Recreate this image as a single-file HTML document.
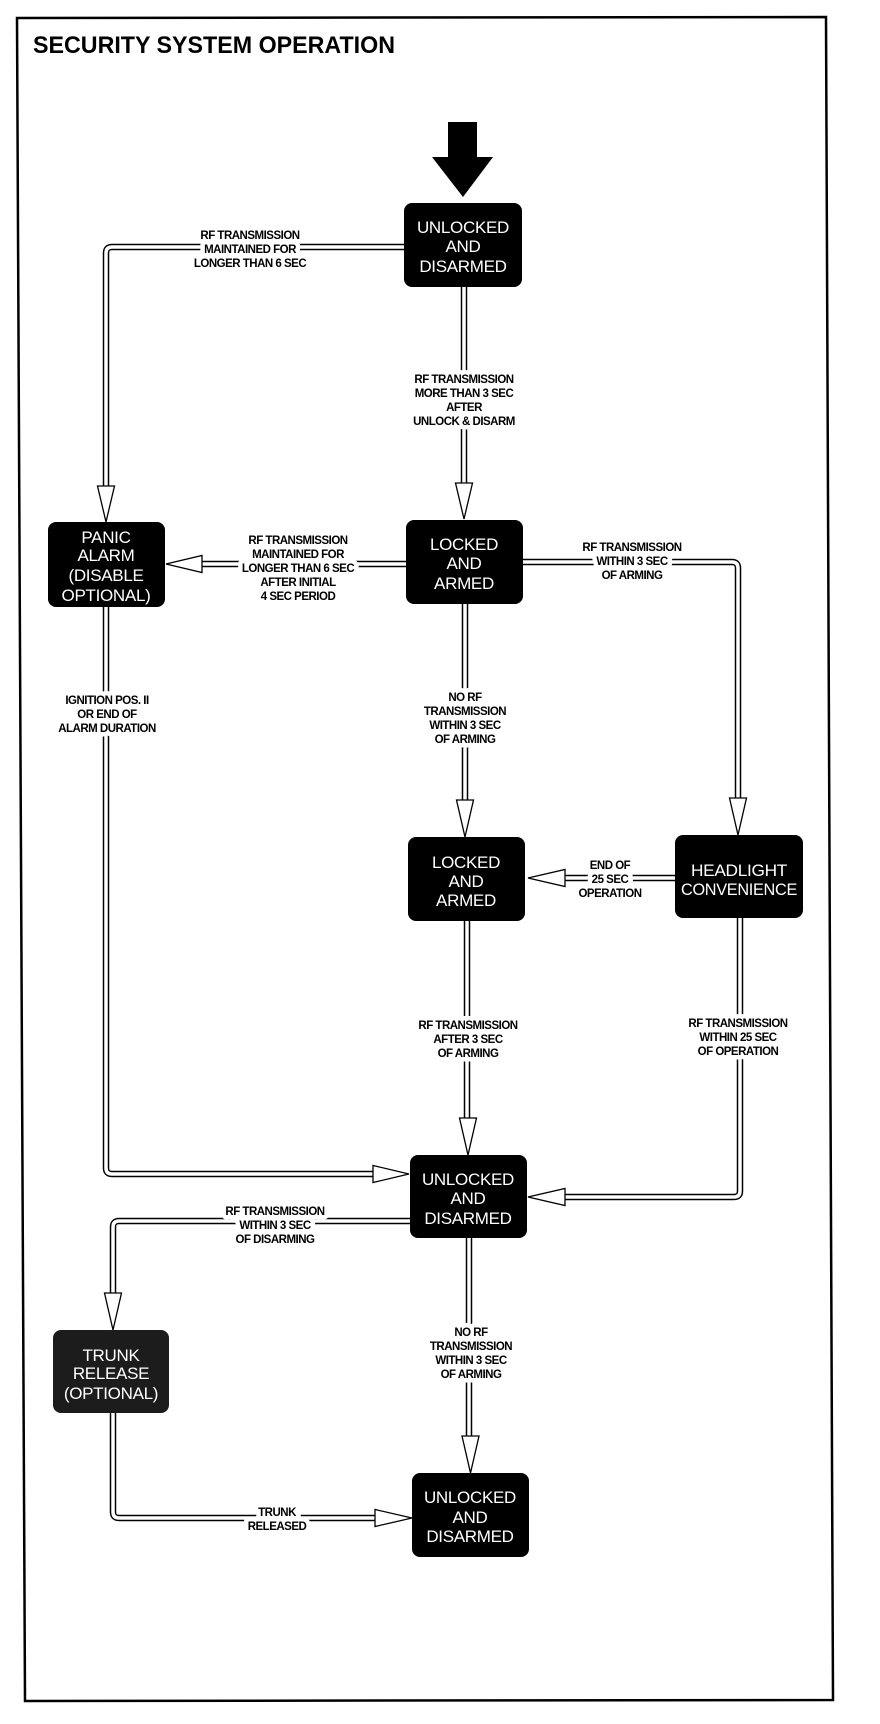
<!DOCTYPE html>
<html><head><meta charset="utf-8"><style>
html,body{margin:0;padding:0;background:#fff;}
svg{display:block;}
.bx{fill:#000;}
.bt{fill:#fff;font-family:"Liberation Sans",sans-serif;font-size:17px;text-anchor:middle;letter-spacing:-0.3px;}
.lb{fill:#000;font-family:"Liberation Sans",sans-serif;font-weight:bold;font-size:11.5px;text-anchor:middle;letter-spacing:-0.5px;paint-order:stroke;stroke:#fff;stroke-width:9px;stroke-linejoin:round;}
.lo{fill:none;stroke:#000;stroke-width:6.5;stroke-linejoin:round;}
.li{fill:none;stroke:#fff;stroke-width:3.5;stroke-linejoin:round;}
.ah{fill:#fff;stroke:#000;stroke-width:1.3;stroke-linejoin:miter;}
</style></head><body>
<svg width="880" height="1724" viewBox="0 0 880 1724" xmlns="http://www.w3.org/2000/svg">
<rect width="880" height="1724" fill="#fff"/>
<polygon points="17,18 826,17 833,1700 25,1701" fill="none" stroke="#000" stroke-width="2.5"/>
<text x="33" y="53" font-family="Liberation Sans,sans-serif" font-weight="bold" font-size="24" textLength="362" lengthAdjust="spacingAndGlyphs">SECURITY SYSTEM OPERATION</text>

<!-- big arrow -->
<rect x="448" y="122" width="29" height="36" fill="#000"/>
<polygon points="432,157 493,157 463,197" fill="#000"/>

<!-- connector lines -->
<g>
<path class="lo" d="M404,247 H112 Q106,247 106,253 V490"/>
<path class="li" d="M404,247 H112 Q106,247 106,253 V490"/>
<path class="lo" d="M464,287 V486"/><path class="li" d="M464,287 V486"/>
<path class="lo" d="M406,564 H198"/><path class="li" d="M406,564 H198"/>
<path class="lo" d="M523,562 H732 Q738,562 738,568 V802"/><path class="li" d="M523,562 H732 Q738,562 738,568 V802"/>
<path class="lo" d="M465,604 V803"/><path class="li" d="M465,604 V803"/>
<path class="lo" d="M675,878 H561"/><path class="li" d="M675,878 H561"/>
<path class="lo" d="M467,921 V1121"/><path class="li" d="M467,921 V1121"/>
<path class="lo" d="M740,918 V1191 Q740,1197 734,1197 H561"/><path class="li" d="M740,918 V1191 Q740,1197 734,1197 H561"/>
<path class="lo" d="M106,607 V1168 Q106,1174 112,1174 H377"/><path class="li" d="M106,607 V1168 Q106,1174 112,1174 H377"/>
<path class="lo" d="M410,1221 H119 Q113,1221 113,1227 V1296"/><path class="li" d="M410,1221 H119 Q113,1221 113,1227 V1296"/>
<path class="lo" d="M469,1238 V1439"/><path class="li" d="M469,1238 V1439"/>
<path class="lo" d="M113,1413 V1512 Q113,1518 119,1518 H379"/><path class="li" d="M113,1413 V1512 Q113,1518 119,1518 H379"/>
</g>

<!-- arrowheads -->
<polygon class="ah" points="97.5,486 114.5,486 106,522"/>
<polygon class="ah" points="455.5,483 472.5,483 464,519"/>
<polygon class="ah" points="202,555.5 202,572.5 166,564"/>
<polygon class="ah" points="729.5,798 746.5,798 738,835"/>
<polygon class="ah" points="456.5,800 473.5,800 465,837"/>
<polygon class="ah" points="565,869.5 565,886.5 528,878"/>
<polygon class="ah" points="459.5,1118 476.5,1118 468,1155"/>
<polygon class="ah" points="565,1188.5 565,1205.5 528,1197"/>
<polygon class="ah" points="373,1165.5 373,1182.5 409,1174"/>
<polygon class="ah" points="104.5,1293 121.5,1293 113,1330"/>
<polygon class="ah" points="462,1436 479,1436 470.5,1473"/>
<polygon class="ah" points="375,1509.5 375,1526.5 412,1518"/>

<!-- boxes -->
<rect class="bx" x="404" y="203" width="118" height="84" rx="8"/>
<rect class="bx" x="406" y="520" width="117" height="84" rx="8"/>
<rect class="bx" x="48" y="522" width="117" height="85" rx="8"/>
<rect class="bx" x="408" y="837" width="117" height="84" rx="8"/>
<rect class="bx" x="675" y="835" width="128" height="83" rx="8"/>
<rect class="bx" x="410" y="1155" width="117" height="83" rx="8"/>
<rect x="53" y="1330" width="116" height="83" rx="8" fill="#1c1c1c"/>
<rect class="bx" x="412" y="1473" width="117" height="84" rx="8"/>

<!-- box texts -->
<g class="bt">
<text x="463" y="233">UNLOCKED</text><text x="463" y="252">AND</text><text x="463" y="272">DISARMED</text>
<text x="464" y="550">LOCKED</text><text x="464" y="569">AND</text><text x="464" y="589">ARMED</text>
<text x="106" y="543">PANIC</text><text x="106" y="561">ALARM</text><text x="106" y="581">(DISABLE</text><text x="106" y="601">OPTIONAL)</text>
<text x="466" y="868">LOCKED</text><text x="466" y="887">AND</text><text x="466" y="906">ARMED</text>
<text x="739" y="876" textLength="96" lengthAdjust="spacingAndGlyphs">HEADLIGHT</text><text x="739" y="895" textLength="116" lengthAdjust="spacingAndGlyphs">CONVENIENCE</text>
<text x="468" y="1185">UNLOCKED</text><text x="468" y="1204">AND</text><text x="468" y="1224">DISARMED</text>
<text x="111" y="1361">TRUNK</text><text x="111" y="1379">RELEASE</text><text x="111" y="1399">(OPTIONAL)</text>
<text x="470" y="1503">UNLOCKED</text><text x="470" y="1523">AND</text><text x="470" y="1542">DISARMED</text>
</g>

<!-- labels -->
<g class="lb">
<text x="250" y="239">RF TRANSMISSION</text><text x="250" y="253">MAINTAINED FOR</text><text x="250" y="267">LONGER THAN 6 SEC</text>
<text x="464" y="383">RF TRANSMISSION</text><text x="464" y="397">MORE THAN 3 SEC</text><text x="464" y="411">AFTER</text><text x="464" y="425">UNLOCK &amp; DISARM</text>
<text x="298" y="544">RF TRANSMISSION</text><text x="298" y="558">MAINTAINED FOR</text><text x="298" y="572">LONGER THAN 6 SEC</text><text x="298" y="586">AFTER INITIAL</text><text x="298" y="600">4 SEC PERIOD</text>
<text x="632" y="551">RF TRANSMISSION</text><text x="632" y="565">WITHIN 3 SEC</text><text x="632" y="579">OF ARMING</text>
<text x="465" y="701">NO RF</text><text x="465" y="715">TRANSMISSION</text><text x="465" y="729">WITHIN 3 SEC</text><text x="465" y="743">OF ARMING</text>
<text x="610" y="869">END OF</text><text x="610" y="883">25 SEC</text><text x="610" y="897">OPERATION</text>
<text x="468" y="1029">RF TRANSMISSION</text><text x="468" y="1043">AFTER 3 SEC</text><text x="468" y="1057">OF ARMING</text>
<text x="738" y="1027">RF TRANSMISSION</text><text x="738" y="1041">WITHIN 25 SEC</text><text x="738" y="1055">OF OPERATION</text>
<text x="107" y="704">IGNITION POS. II</text><text x="107" y="718">OR END OF</text><text x="107" y="732">ALARM DURATION</text>
<text x="275" y="1215">RF TRANSMISSION</text><text x="275" y="1229">WITHIN 3 SEC</text><text x="275" y="1243">OF DISARMING</text>
<text x="471" y="1336">NO RF</text><text x="471" y="1350">TRANSMISSION</text><text x="471" y="1364">WITHIN 3 SEC</text><text x="471" y="1378">OF ARMING</text>
<text x="277" y="1516">TRUNK</text><text x="277" y="1530">RELEASED</text>
</g>
</svg>
</body></html>
